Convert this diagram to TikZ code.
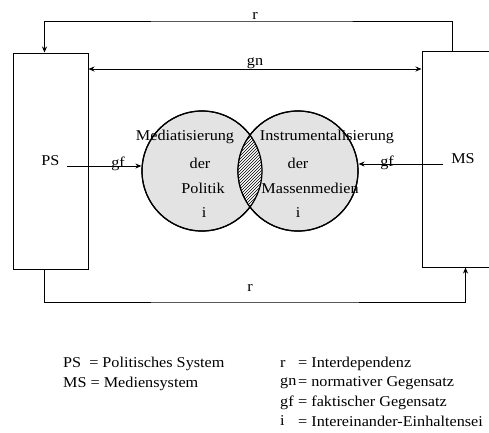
\documentclass[tikz,border=0pt]{standalone}
\usepackage{fontspec}
\setmainfont{Liberation Serif}[FakeStretch=1.08]
\usetikzlibrary{arrows.meta,patterns,calc}
\begin{document}
\begin{tikzpicture}[x=1pt,y=-1pt,
  every node/.style={font=\fontsize{15}{18}\selectfont},
  sysbox/.style={draw,line width=1pt,rectangle,inner sep=0pt},
  ring/.style={draw,line width=1.2pt,circle,minimum size=120pt,inner sep=0pt,fill=black!11},
  arr/.style={line width=1pt,-{Stealth[length=6pt,width=5pt]}},
  biarr/.style={line width=1pt,{Stealth[length=6pt,width=5pt]}-{Stealth[length=6pt,width=5pt]}},
  lbl/.style={inner sep=1pt},
  leg/.style={anchor=west,inner sep=0pt}]
\useasboundingbox (0,0) rectangle (489,432);
\fill[white] (0,0) rectangle (489,432);
% boxes
\node[sysbox,minimum width=75pt,minimum height=216pt] (PS) at (50.5,161) {PS};
\node[sysbox,minimum width=82pt,minimum height=216pt] (MS) at (463,159) {MS};
% circles
\node[ring] (L) at (202,171) {};
\node[ring] (R) at (298,171) {};
\begin{scope}
  \clip (202,171) circle (60pt);
  \fill[white] (298,171) circle (60pt);
  \fill[pattern=north east lines] (298,171) circle (60pt);
\end{scope}
\draw[line width=1.2pt] (L) circle (60pt);
\draw[line width=1.2pt] (R) circle (60pt);
% circle texts
\node at (185,137) {Mediatisierung};
\node at (200,163) {der};
\node at (203,188) {Politik};
\node at (204,213) {i};
\node at (327,137) {Instrumentalisierung};
\node at (298,163) {der};
\node at (310,188) {Massenmedien};
\node at (298,213) {i};
% top r
\coordinate (rtop) at (255,21);
\draw[arr] ($(MS.north west)+(31,0)$) |- (rtop) -| ($(PS.north west)+(32,0)$);
\node[lbl,above] at (rtop) {r};
% bottom r
\coordinate (rbot) at (255,302);
\draw[arr] ($(PS.south west)+(32,0)$) |- (rbot) -| ($(MS.south west)+(44,0)$);
\node[lbl] at (250,288) {r};
% gn
\coordinate (gny) at (255,69);
\draw[biarr] (gny -| PS.east) -- (gny -| MS.west);
\node[lbl] at (255,63) {gn};
% gf
\coordinate (gfL) at (67,166);
\draw[arr] (gfL) -- (gfL -| L.west);
\node[lbl] at (118,164) {gf};
\coordinate (gfR) at (443,164);
\draw[arr] (gfR) -- (gfR -| R.east);
\node[lbl] at (387,163) {gf};
% legend
\node[leg] (l1) at (63,364) {PS\ \ = Politisches System};
\node[leg] (l2) at (63,384) {MS = Mediensystem};
\node[leg] (s1) at (280,364) {r};
\node[leg] (t1) at (298,364) {= Interdependenz};
\node[leg] (s2) at (280,383) {gn};
\node[leg] (t2) at (298,383) {= normativer Gegensatz};
\node[leg] (s3) at (280,403) {gf};
\node[leg] (t3) at (298,403) {= faktischer Gegensatz};
\node[leg] (s4) at (280,421) {i};
\node[leg] (t4) at (298,421) {= Intereinander-Einhaltensei};
\end{tikzpicture}
\end{document}
